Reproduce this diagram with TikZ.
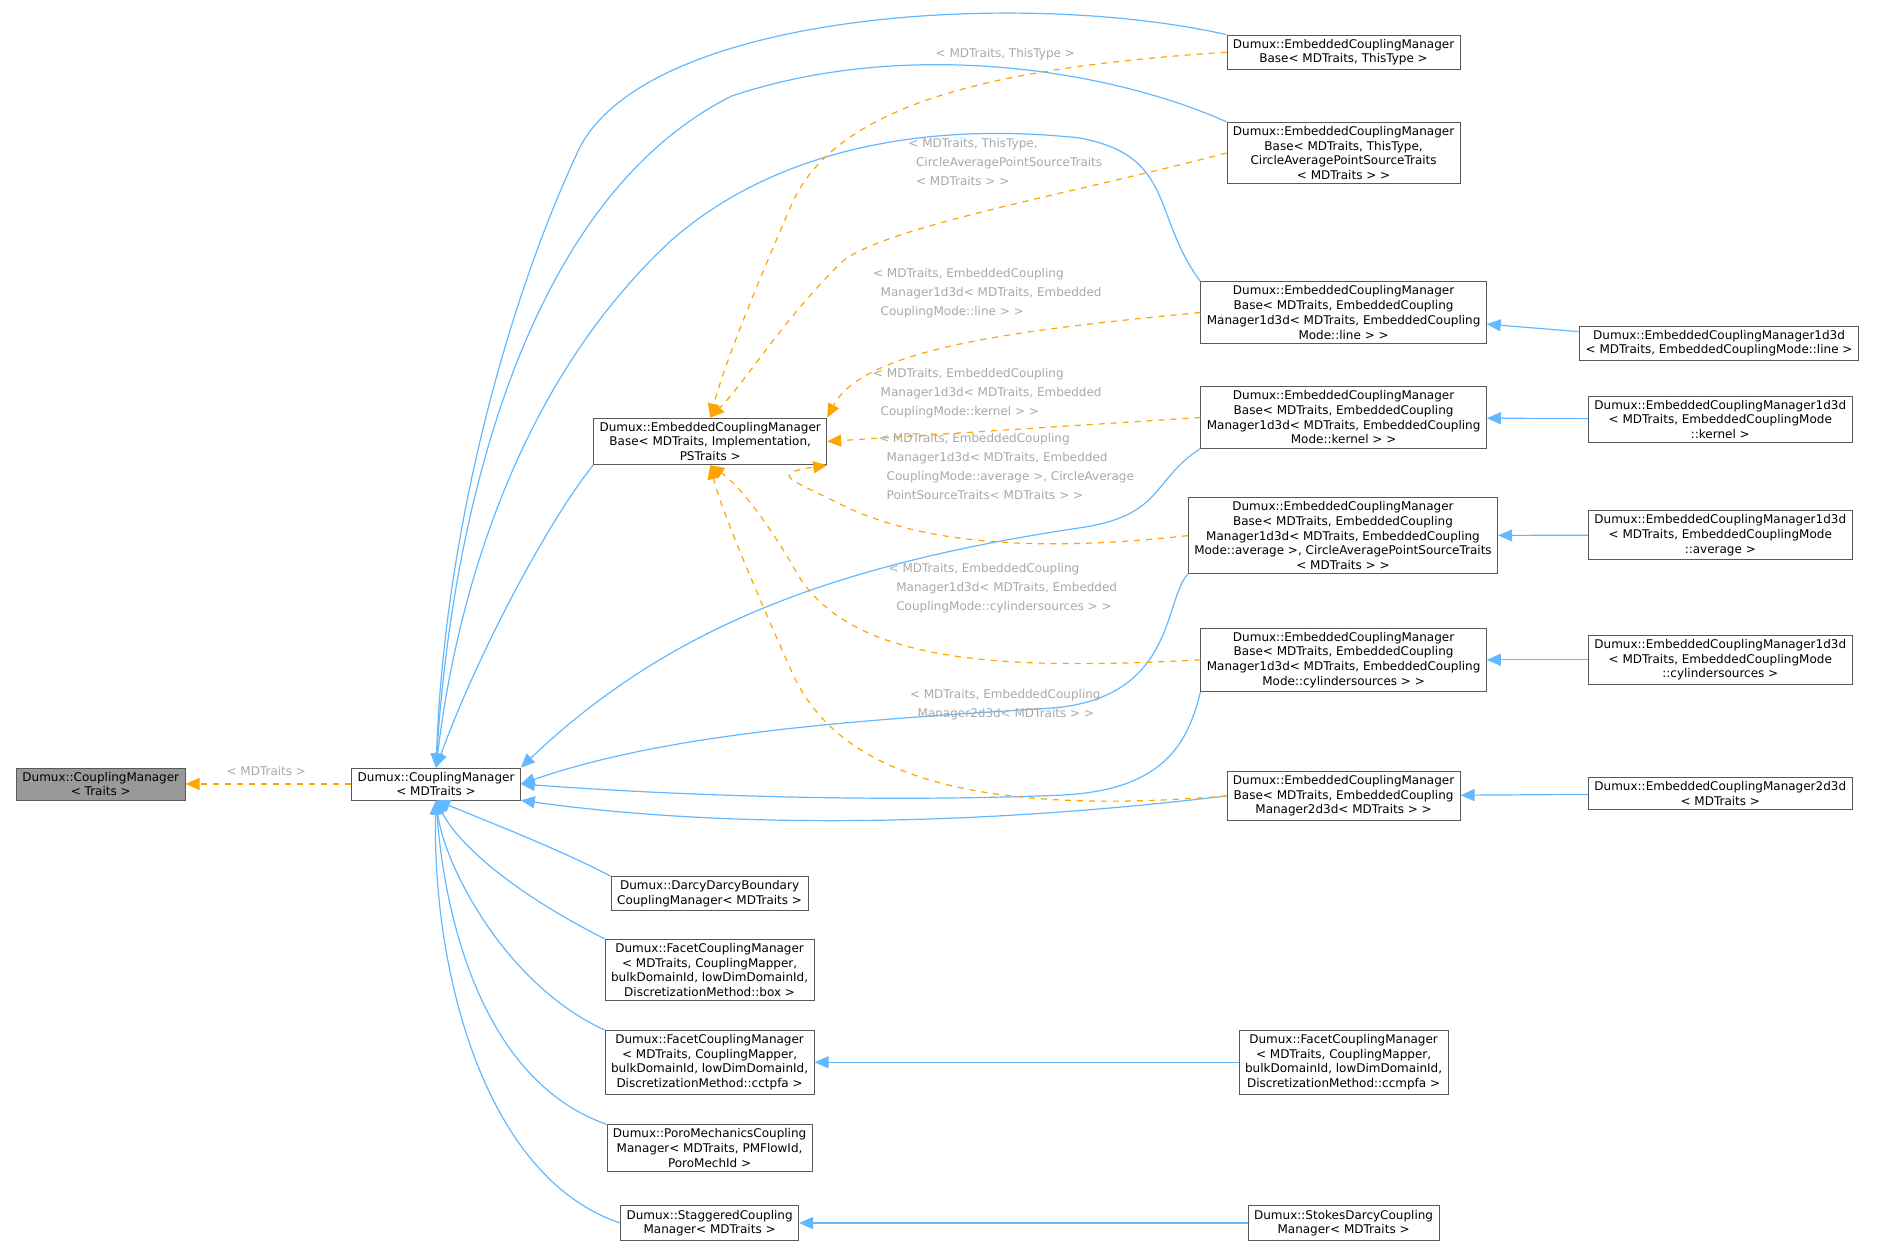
\documentclass[tikz,border=0pt]{standalone}
\usepackage{fontspec}
\setmainfont{DejaVu Sans}
\usetikzlibrary{arrows.meta}
\definecolor{inhblue}{HTML}{63B8FF}
\definecolor{tplorange}{HTML}{FFA500}
\definecolor{lblgray}{HTML}{A8A8A8}
\definecolor{boxgray}{HTML}{999999}

\tikzstyle{cls} = [rectangle, draw=black!65, fill=white, inner xsep=3pt, inner ysep=2pt, align=center, font=\fontsize{6}{7.35}\selectfont]
\tikzstyle{inh} = [draw=inhblue, semithick, -{Triangle[width=6pt,length=7pt]}]
\tikzstyle{tpl} = [draw=tplorange, semithick, dashed, -{Triangle[width=6pt,length=7pt]}]
\tikzstyle{lbl} = [text=lblgray, align=left, inner sep=0pt, font=\fontsize{6}{9.5}\selectfont]

\begin{document}
\begin{tikzpicture}[x=0.6pt,y=-0.6pt]
\useasboundingbox (0,0) rectangle (1568,1040);

\node[cls, fill=boxgray] (CMTraits) at (84,653.5) {Dumux::CouplingManager\\{}< Traits >};
\node[cls] (CM) at (363.5,653.5) {Dumux::CouplingManager\\{}< MDTraits >};
\node[cls] (ECMBase) at (592,368) {Dumux::EmbeddedCouplingManager\\Base< MDTraits, Implementation,\\PSTraits >};

\node[cls] (BaseThis) at (1120,43.5) {Dumux::EmbeddedCouplingManager\\Base< MDTraits, ThisType >};
\node[cls] (BaseCircle) at (1120,127.5) {Dumux::EmbeddedCouplingManager\\Base< MDTraits, ThisType,\\CircleAveragePointSourceTraits\\{}< MDTraits > >};
\node[cls] (BaseLine) at (1120,260.5) {Dumux::EmbeddedCouplingManager\\Base< MDTraits, EmbeddedCoupling\\Manager1d3d< MDTraits, EmbeddedCoupling\\Mode::line > >};
\node[cls] (BaseKernel) at (1120,348) {Dumux::EmbeddedCouplingManager\\Base< MDTraits, EmbeddedCoupling\\Manager1d3d< MDTraits, EmbeddedCoupling\\Mode::kernel > >};
\node[cls] (BaseAverage) at (1119.5,446.5) {Dumux::EmbeddedCouplingManager\\Base< MDTraits, EmbeddedCoupling\\Manager1d3d< MDTraits, EmbeddedCoupling\\Mode::average >, CircleAveragePointSourceTraits\\{}< MDTraits > >};
\node[cls] (BaseCylinder) at (1120,550) {Dumux::EmbeddedCouplingManager\\Base< MDTraits, EmbeddedCoupling\\Manager1d3d< MDTraits, EmbeddedCoupling\\Mode::cylindersources > >};
\node[cls] (BaseTwoD) at (1120,663.5) {Dumux::EmbeddedCouplingManager\\Base< MDTraits, EmbeddedCoupling\\Manager2d3d< MDTraits > >};

\node[cls] (ECMLine) at (1433,286) {Dumux::EmbeddedCouplingManager1d3d\\{}< MDTraits, EmbeddedCouplingMode::line >};
\node[cls] (ECMKernel) at (1434,349.5) {Dumux::EmbeddedCouplingManager1d3d\\{}< MDTraits, EmbeddedCouplingMode\\::kernel >};
\node[cls] (ECMAverage) at (1434,446) {Dumux::EmbeddedCouplingManager1d3d\\{}< MDTraits, EmbeddedCouplingMode\\::average >};
\node[cls] (ECMCylinder) at (1434,550) {Dumux::EmbeddedCouplingManager1d3d\\{}< MDTraits, EmbeddedCouplingMode\\::cylindersources >};
\node[cls] (ECMTwoD) at (1434,661.5) {Dumux::EmbeddedCouplingManager2d3d\\{}< MDTraits >};

\node[cls] (DarcyDarcy) at (591.5,745) {Dumux::DarcyDarcyBoundary\\CouplingManager< MDTraits >};
\node[cls] (FacetBox) at (591.5,808.5) {Dumux::FacetCouplingManager\\{}< MDTraits, CouplingMapper,\\bulkDomainId, lowDimDomainId,\\DiscretizationMethod::box >};
\node[cls] (FacetTpfa) at (591.5,885.5) {Dumux::FacetCouplingManager\\{}< MDTraits, CouplingMapper,\\bulkDomainId, lowDimDomainId,\\DiscretizationMethod::cctpfa >};
\node[cls] (PoroMech) at (591.5,957) {Dumux::PoroMechanicsCoupling\\Manager< MDTraits, PMFlowId,\\PoroMechId >};
\node[cls] (Staggered) at (591.5,1019.5) {Dumux::StaggeredCoupling\\Manager< MDTraits >};
\node[cls] (FacetMpfa) at (1120,885.5) {Dumux::FacetCouplingManager\\{}< MDTraits, CouplingMapper,\\bulkDomainId, lowDimDomainId,\\DiscretizationMethod::ccmpfa >};
\node[cls] (StokesDarcy) at (1120,1019.5) {Dumux::StokesDarcyCoupling\\Manager< MDTraits >};

% inheritance
\draw[inh] (BaseThis.north west) .. controls (850,-10) and (530,10) .. (480,130) .. controls (420,260) and (370,450) .. (CM.north);
\draw[inh] (BaseCircle.north west) .. controls (930,60) and (760,30) .. (610,80) .. controls (430,170) and (375,450) .. (CM.north);
\draw[inh] (BaseLine.north west) .. controls (960,180) and (980,130) .. (900,115) .. controls (760,100) and (640,130) .. (560,200) .. controls (430,320) and (380,500) .. (CM.north);
\draw[inh] (ECMBase.south west) .. controls (460,430) and (400,540) .. (CM.north);
\draw[inh] (BaseKernel.south west) .. controls (960,400) and (970,430) .. (900,440) .. controls (700,470) and (560,520) .. (CM.north east);
\draw[inh] (BaseAverage.south west) .. controls (970,500) and (980,580) .. (880,590) .. controls (720,600) and (560,610) .. (CM.east);
\draw[inh] (BaseCylinder.south west) .. controls (990,620) and (970,660) .. (880,663) .. controls (700,670) and (520,660) .. (CM.east);
\draw[inh] (BaseTwoD.west) .. controls (800,690) and (600,690) .. (CM.south east);
\draw[inh] (DarcyDarcy.north west) .. controls (470,710) and (420,690) .. (CM.south);
\draw[inh] (FacetBox.north west) .. controls (420,740) and (380,700) .. (CM.south);
\draw[inh] (FacetTpfa.north west) .. controls (420,820) and (370,720) .. (CM.south);
\draw[inh] (PoroMech.north west) .. controls (400,900) and (370,760) .. (CM.south);
\draw[inh] (Staggered.west) .. controls (400,980) and (360,800) .. (CM.south);
\draw[inh] (ECMLine) -- (BaseLine);
\draw[inh] (ECMKernel) -- (BaseKernel);
\draw[inh] (ECMAverage) -- (BaseAverage);
\draw[inh] (ECMCylinder) -- (BaseCylinder);
\draw[inh] (ECMTwoD) -- (BaseTwoD);
\draw[inh] (FacetMpfa) -- (FacetTpfa);
\draw[inh] (StokesDarcy) -- (Staggered);

% template instances
\draw[tpl] (CM) -- (CMTraits);
\draw[tpl] (BaseThis.west) .. controls (850,55) and (700,80) .. (660,170) .. controls (630,240) and (605,300) .. (ECMBase.north);
\draw[tpl] (BaseCircle.west) .. controls (900,160) and (730,190) .. (700,220) .. controls (650,270) and (620,320) .. (ECMBase.north);
\draw[tpl] (BaseLine.west) .. controls (850,275) and (720,290) .. (ECMBase.north east);
\draw[tpl] (BaseKernel.west) -- (ECMBase.east);
\draw[tpl] (BaseAverage.west) .. controls (850,462) and (760,450) .. (700,420) .. controls (660,400) and (640,395) .. (ECMBase.south east);
\draw[tpl] (BaseCylinder.west) .. controls (820,560) and (700,550) .. (660,470) .. controls (630,420) and (610,400) .. (ECMBase.south);
\draw[tpl] (BaseTwoD.west) .. controls (820,680) and (700,650) .. (660,560) .. controls (620,470) and (600,420) .. (ECMBase.south);

\node[lbl] (lMD) at (222,643) {< MDTraits >};
\node[lbl] (lThis) at (838,45) {< MDTraits, ThisType >};
\node[lbl] (lCircle) at (838,135) {< MDTraits, ThisType,\\\ \ CircleAveragePointSourceTraits\\\ \ < MDTraits > >};
\node[lbl] (lLine) at (823,244) {< MDTraits, EmbeddedCoupling\\\ \ Manager1d3d< MDTraits, Embedded\\\ \ CouplingMode::line > >};
\node[lbl] (lKernel) at (823,328) {< MDTraits, EmbeddedCoupling\\\ \ Manager1d3d< MDTraits, Embedded\\\ \ CouplingMode::kernel > >};
\node[lbl] (lAverage) at (839,389) {< MDTraits, EmbeddedCoupling\\\ \ Manager1d3d< MDTraits, Embedded\\\ \ CouplingMode::average >, CircleAverage\\\ \ PointSourceTraits< MDTraits > >};
\node[lbl] (lCylinder) at (836,490) {< MDTraits, EmbeddedCoupling\\\ \ Manager1d3d< MDTraits, Embedded\\\ \ CouplingMode::cylindersources > >};
\node[lbl] (lTwoD) at (838,587) {< MDTraits, EmbeddedCoupling\\\ \ Manager2d3d< MDTraits > >};
\end{tikzpicture}
\end{document}
